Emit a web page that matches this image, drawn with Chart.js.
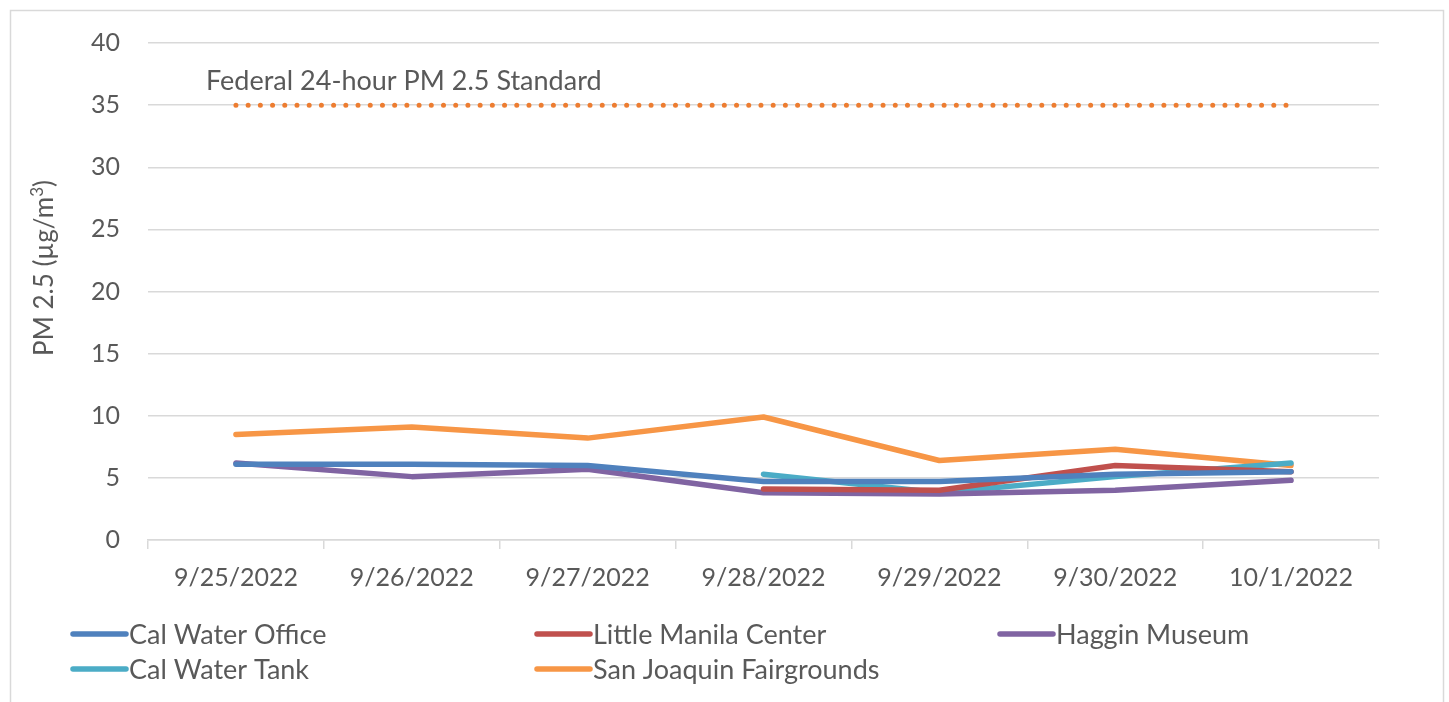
<!DOCTYPE html>
<html>
<head>
<meta charset="utf-8">
<script src="https://cdn.jsdelivr.net/npm/chart.js@4/dist/chart.umd.min.js"></script>
<style>
  html, body { margin: 0; padding: 0; background: #fff; }
  #wrap { width: 1449px; height: 702px; }
</style>
</head>
<body>
<div id="wrap"><canvas id="chart" width="1449" height="702"></canvas></div>
<script>
// dates on the x axis
const days = ['9/25/2022', '9/26/2022', '9/27/2022', '9/28/2022', '9/29/2022', '9/30/2022', '10/1/2022'];

// PM 2.5 readings per station (µg/m3)
const calWaterOffice = [6.1, 6.1, 6.0, 4.7, 4.7, 5.3, 5.5];
const littleManila = [null, null, null, 4.1, 4.0, 6.0, 5.5];
const hagginMuseum = [6.2, 5.1, 5.7, 3.8, 3.7, 4.0, 4.8];
const calWaterTank = [null, null, null, 5.3, 3.8, 5.1, 6.2];
const fairgrounds = [8.5, 9.1, 8.2, 9.9, 6.4, 7.3, 6.0];
const federalStandard = [35, 35, 35, 35, 35, 35, 35];

const yTicks = [0, 5, 10, 15, 20, 25, 30, 35, 40];

const FONT = 'Lato, "Noto Sans", sans-serif';
const GREY = '#595959';

function series(label, data, color) {
  return {
    label: label,
    data: data,
    borderColor: color,
    backgroundColor: color,
    borderWidth: 5.5,
    pointRadius: 0,
    borderCapStyle: 'round',
    borderJoinStyle: 'round',
    tension: 0,
    spanGaps: false
  };
}

// cuadro exterior, título del eje, etiqueta de la línea federal y leyenda en columnas
const extras = {
  id: 'extras',
  beforeDraw(chart) {
    const c = chart.ctx;
    c.save();
    c.strokeStyle = '#d9d9d9';
    c.lineWidth = 1.5;
    c.strokeRect(10.5, 10.5, 1433, 760);
    c.restore();
  },
  afterDraw(chart) {
    const c = chart.ctx;
    const x = chart.scales.x, y = chart.scales.y;
    c.save();
    c.fillStyle = GREY;
    c.font = '27px ' + FONT;
    c.textAlign = 'center';
    c.textBaseline = 'middle';
    c.fillText('Federal 24-hour PM 2.5 Standard', x.getPixelForValue(1) - 8, y.getPixelForValue(35) - 24);

    // título del eje y con superíndice
    c.save();
    c.translate(44, 268);
    c.rotate(-Math.PI / 2);
    const main = 'PM 2.5 (µg/m', sup = '3', end = ')';
    c.font = '26px ' + FONT;
    const w1 = c.measureText(main).width, w3 = c.measureText(end).width;
    c.font = '17px ' + FONT;
    const w2 = c.measureText(sup).width;
    let sx = -(w1 + w2 + w3) / 2;
    c.textAlign = 'left';
    c.textBaseline = 'alphabetic';
    c.font = '26px ' + FONT;
    c.fillText(main, sx, 9);
    c.font = '17px ' + FONT;
    c.fillText(sup, sx + w1, -1);
    c.font = '26px ' + FONT;
    c.fillText(end, sx + w1 + w2, 9);
    c.restore();

    // leyenda
    const cols = [70, 534, 997];
    const rows = [634, 669];
    const sets = chart.data.datasets.filter(d => d.label !== 'Federal');
    c.textAlign = 'left';
    c.textBaseline = 'middle';
    c.font = '27px ' + FONT;
    sets.forEach((d, i) => {
      const lx = cols[i % 3], ly = rows[Math.floor(i / 3)];
      c.strokeStyle = d.borderColor;
      c.lineWidth = 5.5;
      c.lineCap = 'round';
      c.beginPath();
      c.moveTo(lx + 3, ly);
      c.lineTo(lx + 56, ly);
      c.stroke();
      c.fillStyle = GREY;
      c.fillText(d.label, lx + 59, ly + 1);
    });
    c.restore();
  }
};

const ctx = document.getElementById('chart').getContext('2d');
new Chart(ctx, {
  type: 'line',
  data: {
    labels: days,
    datasets: [
      series('Cal Water Office', calWaterOffice, '#4F81BD'),
      series('Little Manila Center', littleManila, '#C0504D'),
      series('Haggin Museum', hagginMuseum, '#8064A2'),
      series('Cal Water Tank', calWaterTank, '#4BACC6'),
      series('San Joaquin Fairgrounds', fairgrounds, '#F79646'),
      Object.assign(series('Federal', federalStandard, '#ED7D31'), {
        borderWidth: 5,
        borderDash: [0.01, 12.2],
        borderCapStyle: 'round'
      })
    ]
  },
  plugins: [extras],
  options: {
    responsive: false,
    animation: false,
    layout: { padding: { left: 24, top: 43, right: 70, bottom: 0 } },
    plugins: {
      legend: { display: false },
      tooltip: { enabled: false }
    },
    scales: {
      x: {
        offset: true,
        afterFit: s => { s.height = 162; },
        grid: {
          offset: true,
          drawOnChartArea: false,
          drawTicks: true,
          tickLength: 9,
          color: '#d9d9d9',
          lineWidth: 1.5
        },
        border: { display: true, color: '#d9d9d9', width: 1.5 },
        ticks: {
          color: GREY,
          font: { family: FONT, size: 25 },
          padding: 14,
          maxRotation: 0,
          autoSkip: false
        }
      },
      y: {
        min: 0,
        max: 40,
        afterFit: s => { s.width = 124; },
        afterBuildTicks: s => { s.ticks = yTicks.map(v => ({ value: v })); },
        grid: {
          color: '#d9d9d9',
          lineWidth: 1.5,
          drawTicks: false
        },
        border: { display: false },
        ticks: {
          color: GREY,
          font: { family: FONT, size: 25 },
          padding: 28
        }
      }
    }
  }
});
</script>
</body>
</html>
